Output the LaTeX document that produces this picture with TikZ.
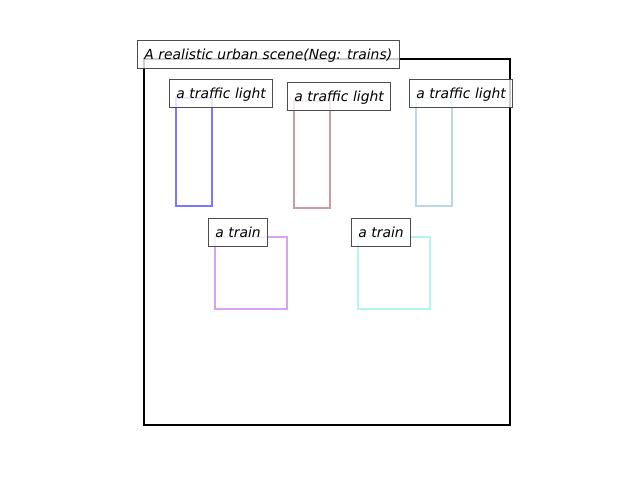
\documentclass[tikz,border=0pt]{standalone}
\usepackage{fontspec}
\newfontfamily\tagfont{DejaVu Sans}
\usepackage{tikz}
\tikzset{
  region/.style = {rectangle, draw=#1, line width=2pt, inner sep=0pt, outer sep=0pt},
  tag/.style = {rectangle, draw=black!70, line width=0.9pt, fill=white, fill opacity=0.8,
    text opacity=1, anchor=base west, xshift=-7pt, inner xsep=7pt, inner ysep=5.5pt,
    text height=13pt, text depth=4pt, font=\tagfont\itshape\fontsize{13.9}{16}\selectfont},
}
\definecolor{lightone}{HTML}{7878FF}
\definecolor{lighttwo}{HTML}{C89CA2}
\definecolor{lightthree}{HTML}{B6D9E4}
\definecolor{trainone}{HTML}{D8A2EE}
\definecolor{traintwo}{HTML}{B6F3EF}

\begin{document}
\begin{tikzpicture}[x=1pt,y=-1pt]
  \useasboundingbox (0,0) rectangle (640,480);
  % scene frame
  \node[region=black, minimum width=366pt, minimum height=366pt] (scene) at (327,242) {};
  % traffic lights
  \node[region=lightone, minimum width=36pt, minimum height=108pt] (light1) at (194,152) {};
  \node[region=lighttwo, minimum width=36pt, minimum height=107pt] (light2) at (312,154.5) {};
  \node[region=lightthree, minimum width=36pt, minimum height=108pt] (light3) at (434,152) {};
  % trains
  \node[region=trainone, minimum width=72pt, minimum height=72pt] (train1) at (251,273) {};
  \node[region=traintwo, minimum width=72pt, minimum height=72pt] (train2) at (394,273) {};
  % labels
  \node[tag] (scenetag) at (scene.north west) {A realistic urban scene(Neg: trains)};
  \node[tag] (light1tag) at (light1.north west) {a traffic light};
  \node[tag] (light2tag) at (light2.north west) {a traffic light};
  \node[tag] (light3tag) at (light3.north west) {a traffic light};
  \node[tag] (train1tag) at (train1.north west) {a train};
  \node[tag] (train2tag) at (train2.north west) {a train};
\end{tikzpicture}
\end{document}
